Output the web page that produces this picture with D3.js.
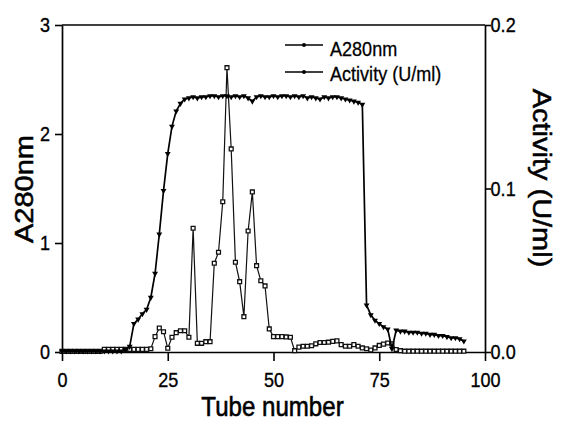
<!DOCTYPE html>
<html>
<head>
<meta charset="utf-8">
<script src="https://cdn.jsdelivr.net/npm/d3@7"></script>
<style>
  html, body { margin: 0; padding: 0; background: #fff; }
  svg { display: block; font-family: "Liberation Sans", Arial, Helvetica, sans-serif; }
</style>
</head>
<body>
<svg id="chart" width="561" height="430"></svg>
<script>
// Tube numbers of the collected fractions
const tubes = [
  0, 1, 2, 3, 4, 5, 6, 7, 8, 9,
  10, 11, 12, 13, 14, 15, 16, 17, 18, 19,
  20, 21, 22, 23, 24, 25, 26, 27, 28, 29,
  30, 31, 32, 33, 34, 35, 36, 37, 38, 39,
  40, 41, 42, 43, 44, 45, 46, 47, 48, 49,
  50, 51, 52, 53, 54, 55, 56, 57, 58, 59,
  60, 61, 62, 63, 64, 65, 66, 67, 68, 69,
  70, 71, 72, 73, 74, 75, 76, 77, 78, 79,
  80, 81, 82, 83, 84, 85, 86, 87, 88, 89,
  90, 91, 92, 93, 94, 95
];

// Absorbance at 280 nm (left axis)
const a280 = [
  0.008, 0.008, 0.008, 0.008, 0.008, 0.008, 0.008, 0.008, 0.008, 0.008,
  0.008, 0.008, 0.008, 0.008, 0.008, 0.02, 0.05, 0.26, 0.30, 0.35,
  0.39, 0.50, 0.72, 1.08, 1.48, 1.82, 2.07, 2.21, 2.28, 2.32,
  2.33, 2.34, 2.33, 2.34, 2.34, 2.35, 2.35, 2.34, 2.35, 2.35,
  2.34, 2.35, 2.34, 2.35, 2.33, 2.30, 2.34, 2.35, 2.34, 2.34,
  2.35, 2.34, 2.35, 2.35, 2.34, 2.35, 2.34, 2.35, 2.33, 2.34,
  2.33, 2.32, 2.34, 2.33, 2.34, 2.34, 2.33, 2.32, 2.31, 2.30,
  2.29, 2.27, 0.43, 0.34, 0.29, 0.26, 0.23, 0.21, 0.03, 0.20,
  0.19, 0.19, 0.18, 0.18, 0.18, 0.17, 0.17, 0.16, 0.16, 0.15,
  0.15, 0.14, 0.13, 0.13, 0.12, 0.10
];

// Enzyme activity in U/ml (right axis)
const activity = [
  0.0004, 0.0004, 0.0004, 0.0004, 0.0004, 0.0004, 0.0004, 0.0004, 0.0004, 0.0004,
  0.0016, 0.0016, 0.0016, 0.0016, 0.0016, 0.0016, 0.0016, 0.0016, 0.0016, 0.0016,
  0.0016, 0.0020, 0.0094, 0.0147, 0.0124, 0.0023, 0.0090, 0.0118, 0.0130, 0.0130,
  0.0090, 0.0757, 0.0053, 0.0053, 0.0063, 0.0063, 0.0543, 0.0610, 0.0919, 0.1739,
  0.1242, 0.0549, 0.0430, 0.0216, 0.0740, 0.0979, 0.0528, 0.0436, 0.0404, 0.0141,
  0.0094, 0.0094, 0.0094, 0.0092, 0.0090, 0.0008, 0.0030, 0.0035, 0.0035, 0.0038,
  0.0050, 0.0058, 0.0058, 0.0060, 0.0065, 0.0068, 0.0045, 0.0035, 0.0035, 0.0045,
  0.0035, 0.0025, 0.0020, 0.0012, 0.0025, 0.0040, 0.0048, 0.0055, 0.0050, 0.0015,
  0.0008, 0.0005, 0.0005, 0.0005, 0.0005, 0.0005, 0.0005, 0.0005, 0.0005, 0.0005,
  0.0005, 0.0005, 0.0005, 0.0005, 0.0005, 0.0005
];

const xTicks = [0, 25, 50, 75, 100];
const leftTicks = [0, 1, 2, 3];
const rightTicks = [0.0, 0.1, 0.2];
const seriesNames = ["A280nm", "Activity (U/ml)"];
const axisTitles = { x: "Tube number", left: "A280nm", right: "Activity (U/ml)" };

// ---- layout ----
const plot = { left: 62, right: 485, top: 25, bottom: 352 };
const SX = 0.86;       // horizontal squeeze applied to the lettering
const ink = "#000";

const svg = d3.select("#chart");

const x  = d3.scaleLinear().domain([0, 100]).range([plot.left, plot.right]);
const yL = d3.scaleLinear().domain([0, 3]).range([plot.bottom, plot.top]);
const yR = d3.scaleLinear().domain([0, 0.2]).range([plot.bottom, plot.top]);

function styleAxis(g) {
  g.select(".domain").attr("stroke", ink).attr("stroke-width", 1.7);
  g.selectAll(".tick line").attr("stroke", ink).attr("stroke-width", 1.6);
  g.selectAll(".tick text")
    .attr("fill", ink)
    .attr("stroke", ink).attr("stroke-width", 0.35)
    .attr("font-size", 21)
    .attr("transform", `scale(${SX},1)`);
}

// top frame line
svg.append("line")
  .attr("x1", plot.left).attr("x2", plot.right)
  .attr("y1", plot.top).attr("y2", plot.top)
  .attr("stroke", ink).attr("stroke-width", 1.7);

// bottom axis
svg.append("g")
  .attr("transform", `translate(0,${plot.bottom})`)
  .call(d3.axisBottom(x).tickValues(xTicks).tickSize(9).tickPadding(11)
    .tickFormat(d3.format("d")).tickSizeOuter(0))
  .call(styleAxis);

// left axis
svg.append("g")
  .attr("transform", `translate(${plot.left},0)`)
  .call(d3.axisLeft(yL).tickValues(leftTicks).tickSize(7).tickPadding(7)
    .tickFormat(d3.format("d")).tickSizeOuter(0))
  .call(styleAxis);

// right axis
svg.append("g")
  .attr("transform", `translate(${plot.right},0)`)
  .call(d3.axisRight(yR).tickValues(rightTicks).tickSize(6).tickPadding(0.5)
    .tickFormat(d3.format(".1f")).tickSizeOuter(0))
  .call(styleAxis);

// ---- series ----
const rowsA = tubes.map((t, i) => ({ t, v: a280[i] }));
const rowsB = tubes.map((t, i) => ({ t, v: activity[i] }));

const lineA = d3.line().x(d => x(d.t)).y(d => yL(d.v));
const lineB = d3.line().x(d => x(d.t)).y(d => yR(d.v));

svg.append("path").datum(rowsB)
  .attr("d", lineB).attr("fill", "none")
  .attr("stroke", "#111").attr("stroke-width", 1.2);

svg.append("g").selectAll("path").data(rowsB).join("path")
  .attr("d", d3.symbol(d3.symbolSquare, 15))
  .attr("transform", d => `translate(${x(d.t)},${yR(d.v)})`)
  .attr("fill", "#fff").attr("stroke", "#111").attr("stroke-width", 1.3);

svg.append("path").datum(rowsA)
  .attr("d", lineA).attr("fill", "none")
  .attr("stroke", ink).attr("stroke-width", 1.7);

svg.append("g").selectAll("path").data(rowsA).join("path")
  .attr("d", d3.symbol(d3.symbolTriangle, 15))
  .attr("transform", d => `translate(${x(d.t)},${yL(d.v)}) rotate(180)`)
  .attr("fill", ink);

// ---- legend ----
const legend = svg.append("g");
const legendRows = [{ y: 45, ty: 48.5 }, { y: 72, ty: 73.5 }];
seriesNames.forEach((name, i) => {
  const r = legendRows[i];
  legend.append("line")
    .attr("x1", 285).attr("x2", 323).attr("y1", r.y).attr("y2", r.y)
    .attr("stroke", ink).attr("stroke-width", 1.4);
  legend.append("circle")
    .attr("cx", 304).attr("cy", r.y).attr("r", 2).attr("fill", ink);
  legend.append("text")
    .attr("transform", `translate(330,${r.ty}) scale(${SX},1)`)
    .attr("dy", "0.35em")
    .attr("font-size", 21).attr("fill", ink)
    .attr("stroke", ink).attr("stroke-width", 0.3)
    .text(name);
});

// ---- axis titles ----
svg.append("text")
  .attr("transform", `translate(${(plot.left + plot.right) / 2 - 1},416) scale(${SX},1)`)
  .attr("text-anchor", "middle")
  .attr("font-size", 28).attr("fill", ink)
  .attr("stroke", ink).attr("stroke-width", 0.6)
  .text(axisTitles.x);

svg.append("text")
  .attr("transform", `translate(33,189) rotate(-90) scale(1,${SX})`)
  .attr("text-anchor", "middle")
  .attr("font-size", 29).attr("fill", ink)
  .attr("stroke", ink).attr("stroke-width", 0.6)
  .text(axisTitles.left);

svg.append("text")
  .attr("transform", `translate(533,178) rotate(90) scale(1,${SX})`)
  .attr("text-anchor", "middle")
  .attr("font-size", 29).attr("fill", ink)
  .attr("stroke", ink).attr("stroke-width", 0.6)
  .text(axisTitles.right);
</script>
</body>
</html>
